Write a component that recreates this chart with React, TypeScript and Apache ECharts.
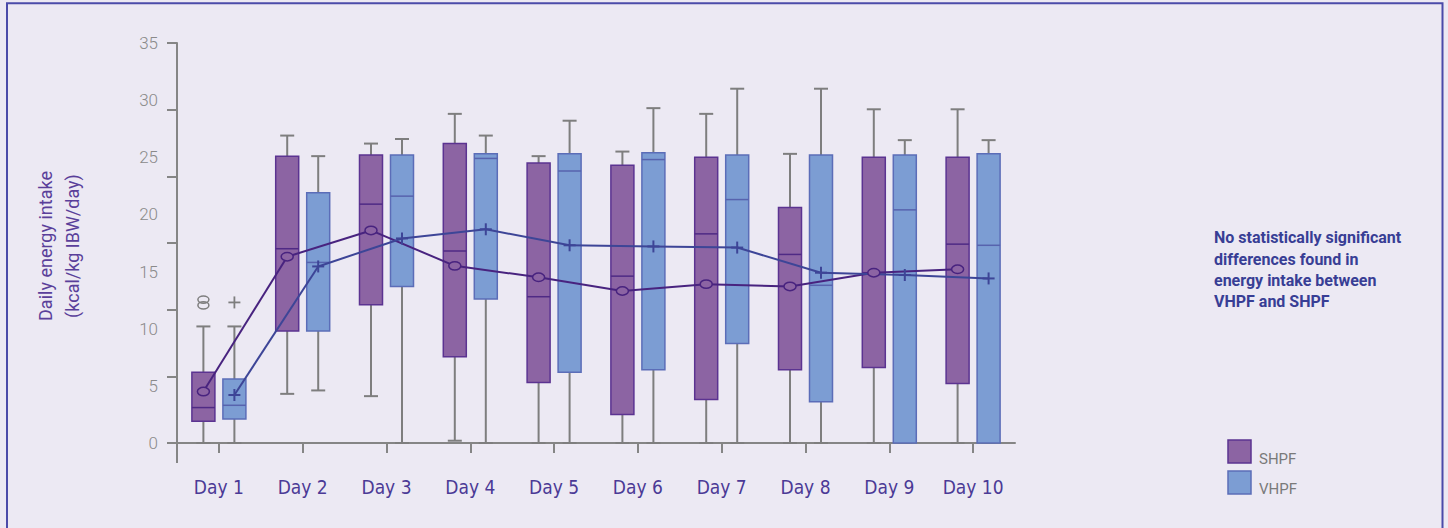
import React, { useEffect, useRef } from 'react';
import * as echarts from 'echarts';

// ---------- data ----------
const days = ['Day 1', 'Day 2', 'Day 3', 'Day 4', 'Day 5', 'Day 6', 'Day 7', 'Day 8', 'Day 9', 'Day 10'];
const yTickValues = [0, 5, 10, 15, 20, 25, 30, 35];

// SHPF box statistics
const shpfLow = [0, 4.3, 4.1, 0.2, 0, 0, 0, 0, 0, 0];
const shpfQ1 = [1.9, 9.8, 12.1, 7.55, 5.3, 2.5, 3.8, 6.4, 6.6, 5.2];
const shpfMedian = [3.1, 17.0, 20.9, 16.8, 12.8, 14.6, 18.3, 16.5, 14.9, 17.4];
const shpfQ3 = [6.2, 25.1, 25.2, 26.2, 24.5, 24.3, 25.0, 20.6, 25.0, 25.0];
const shpfHigh = [10.2, 26.9, 26.2, 28.8, 25.1, 25.5, 28.8, 25.3, 29.2, 29.2];
const shpfMean = [4.5, 16.3, 18.6, 15.5, 14.5, 13.3, 13.9, 13.7, 14.9, 15.2];
const shpfOutliers = [[0, 12.05], [0, 12.55]];

// VHPF box statistics
const vhpfLow = [0, 4.6, 0, 0, 0, 0, 0, 0, 0, 0];
const vhpfQ1 = [2.1, 9.8, 13.7, 12.6, 6.2, 6.4, 8.7, 3.6, 0, 0];
const vhpfMedian = [3.3, 15.8, 21.6, 24.9, 23.8, 24.8, 21.3, 13.8, 20.4, 17.3];
const vhpfQ3 = [5.6, 21.9, 25.2, 25.3, 25.3, 25.4, 25.2, 25.2, 25.2, 25.3];
const vhpfHigh = [10.2, 25.1, 26.6, 26.9, 28.2, 29.3, 31.0, 31.0, 26.5, 26.5];
const vhpfMean = [4.2, 15.45, 17.9, 18.7, 17.3, 17.2, 17.1, 14.9, 14.7, 14.4];
const vhpfOutliers = [[0, 12.3]];

// ---------- styles ----------
const BG = '#ECE9F3';
const AXIS_GRAY = '#858585';
const WHISKER = '#7E7E7E';
const SHPF_FILL = '#8C64A3';
const SHPF_STROKE = '#5B3391';
const SHPF_MEDIAN = '#4F2A85';
const SHPF_LINE = '#48237F';
const VHPF_FILL = '#7C9DD3';
const VHPF_STROKE = '#5B6DB8';
const VHPF_MEDIAN = '#5763AE';
const VHPF_LINE = '#3D4597';
const BOX_W = 23;
const CAP_W = 14;
const OFF = 15.5;

function boxRenderer(offset: number, fill: string, stroke: string, medColor: string) {
  return (params: any, api: any) => {
    const i = api.value(0);
    const low = api.coord([i, api.value(1)]);
    const q1 = api.coord([i, api.value(2)]);
    const med = api.coord([i, api.value(3)]);
    const q3 = api.coord([i, api.value(4)]);
    const high = api.coord([i, api.value(5)]);
    const cx = low[0] + offset;
    const hw = BOX_W / 2;
    const cw = CAP_W / 2;
    const ws = { stroke: WHISKER, lineWidth: 2 };
    return {
      type: 'group',
      children: [
        { type: 'line', shape: { x1: cx, y1: high[1], x2: cx, y2: q3[1] }, style: ws },
        { type: 'line', shape: { x1: cx, y1: q1[1], x2: cx, y2: low[1] }, style: ws },
        { type: 'line', shape: { x1: cx - cw, y1: high[1], x2: cx + cw, y2: high[1] }, style: ws },
        { type: 'line', shape: { x1: cx - cw, y1: low[1], x2: cx + cw, y2: low[1] }, style: ws },
        {
          type: 'rect',
          shape: { x: cx - hw, y: q3[1], width: BOX_W, height: q1[1] - q3[1] },
          style: { fill, stroke, lineWidth: 1.5 },
        },
        {
          type: 'line',
          shape: { x1: cx - hw, y1: med[1], x2: cx + hw, y2: med[1] },
          style: { stroke: medColor, lineWidth: 1.5 },
        },
      ],
    };
  };
}

function meanLineRenderer(means: number[], offset: number, color: string) {
  return (params: any, api: any) => {
    const i = params.dataIndex;
    if (i === 0) return { type: 'group', children: [] };
    const p0 = api.coord([i - 1, means[i - 1]]);
    const p1 = api.coord([i, means[i]]);
    return {
      type: 'line',
      shape: { x1: p0[0] + offset, y1: p0[1], x2: p1[0] + offset, y2: p1[1] },
      style: { stroke: color, lineWidth: 2 },
    };
  };
}

function circleMarker(offset: number, fill: string, stroke: string, rx: number, ry: number, lw: number) {
  return (params: any, api: any) => {
    const p = api.coord([api.value(0), api.value(1)]);
    return {
      type: 'ellipse',
      shape: { cx: p[0] + offset, cy: p[1], rx, ry },
      style: { fill, stroke, lineWidth: lw },
    };
  };
}

function plusMarker(offset: number, stroke: string, half: number, lw: number) {
  return (params: any, api: any) => {
    const p = api.coord([api.value(0), api.value(1)]);
    const x = p[0] + offset;
    const y = p[1];
    return {
      type: 'group',
      children: [
        { type: 'line', shape: { x1: x - half, y1: y, x2: x + half, y2: y }, style: { stroke, lineWidth: lw } },
        { type: 'line', shape: { x1: x, y1: y - half, x2: x, y2: y + half }, style: { stroke, lineWidth: lw } },
      ],
    };
  };
}

export default function App() {
  const ref = useRef<HTMLDivElement>(null);

  useEffect(() => {
    if (!ref.current) return;
    const chart = echarts.init(ref.current, undefined, { renderer: 'svg' });

    const shpfBoxes = days.map((_, i) => [i, shpfLow[i], shpfQ1[i], shpfMedian[i], shpfQ3[i], shpfHigh[i]]);
    const vhpfBoxes = days.map((_, i) => [i, vhpfLow[i], vhpfQ1[i], vhpfMedian[i], vhpfQ3[i], vhpfHigh[i]]);
    const shpfMeanData = shpfMean.map((m, i) => [i, m]);
    const vhpfMeanData = vhpfMean.map((m, i) => [i, m]);

    chart.setOption({
      animation: false,
      backgroundColor: BG,
      grid: { left: 177, top: 43, width: 838, height: 400, containLabel: false },
      xAxis: [
        {
          type: 'category',
          data: days,
          position: 'bottom',
          offset: 9,
          boundaryGap: true,
          axisLine: { show: true, lineStyle: { color: AXIS_GRAY, width: 2 } },
          axisTick: { show: true, alignWithLabel: true, length: 10, lineStyle: { color: AXIS_GRAY, width: 2 } },
          axisLabel: {
            interval: 0,
            color: '#4B3A96',
            fontSize: 19,
            fontFamily: "'Liberation Sans Narrow', 'DejaVu Sans Condensed', Roboto, sans-serif",
            margin: 25,
          },
          splitLine: { show: false },
        },
      ],
      yAxis: [
        {
          type: 'value',
          min: 0,
          max: 35,
          interval: 5,
          axisLine: { show: false },
          axisTick: { show: false },
          splitLine: { show: false },
          axisLabel: {
            color: '#8A8A8A',
            fontSize: 17,
            fontFamily: 'Roboto, sans-serif',
            fontWeight: 300,
            margin: 19,
            formatter: (v: number) => (yTickValues.indexOf(v) >= 0 ? String(v) : ''),
          },
        },
        {
          type: 'value',
          min: 0,
          max: 6,
          interval: 1,
          position: 'left',
          axisLine: { show: true, onZero: false, lineStyle: { color: AXIS_GRAY, width: 2 } },
          axisTick: { show: true, length: 10, lineStyle: { color: AXIS_GRAY, width: 2 } },
          axisLabel: { show: false },
          splitLine: { show: false },
        },
      ],
      graphic: [
        {
          type: 'rect',
          shape: { x: 7, y: 3.3, width: 1435.5, height: 540 },
          style: { fill: 'none', stroke: '#4B4BA9', lineWidth: 2 },
          silent: true,
        },
        {
          type: 'line',
          shape: { x1: 177, y1: 442, x2: 177, y2: 463 },
          style: { stroke: AXIS_GRAY, lineWidth: 2 },
        },
        {
          type: 'text',
          x: 59,
          y: 246,
          rotation: Math.PI / 2,
          style: {
            text: 'Daily energy intake\n(kcal/kg IBW/day)',
            align: 'center',
            verticalAlign: 'middle',
            fill: '#5A3F9A',
            font: '18px Roboto, sans-serif',
            lineHeight: 27,
          },
        },
        {
          type: 'text',
          x: 1214,
          y: 227,
          style: {
            text: 'No statistically significant\ndifferences found in\nenergy intake between\nVHPF and SHPF',
            fill: '#383E95',
            font: 'bold 16px Roboto, sans-serif',
            lineHeight: 21.4,
            verticalAlign: 'top',
          },
        },
        {
          type: 'rect',
          shape: { x: 1228, y: 440, width: 23, height: 23 },
          style: { fill: SHPF_FILL, stroke: SHPF_STROKE, lineWidth: 1.5 },
        },
        {
          type: 'rect',
          shape: { x: 1228, y: 471, width: 23, height: 23 },
          style: { fill: VHPF_FILL, stroke: VHPF_STROKE, lineWidth: 1.5 },
        },
        {
          type: 'text',
          x: 1259,
          y: 459,
          style: { text: 'SHPF', fill: '#7A7A7A', font: '15px Roboto, sans-serif', verticalAlign: 'middle' },
        },
        {
          type: 'text',
          x: 1259,
          y: 489,
          style: { text: 'VHPF', fill: '#7A7A7A', font: '15px Roboto, sans-serif', verticalAlign: 'middle' },
        },
      ],
      series: [
        {
          name: 'SHPF',
          type: 'custom',
          z: 2,
          renderItem: boxRenderer(-OFF, SHPF_FILL, SHPF_STROKE, SHPF_MEDIAN),
          encode: { x: 0, y: [1, 2, 3, 4, 5] },
          data: shpfBoxes,
        },
        {
          name: 'VHPF',
          type: 'custom',
          z: 2,
          renderItem: boxRenderer(OFF, VHPF_FILL, VHPF_STROKE, VHPF_MEDIAN),
          encode: { x: 0, y: [1, 2, 3, 4, 5] },
          data: vhpfBoxes,
        },
        {
          name: 'SHPF outliers',
          type: 'custom',
          z: 3,
          renderItem: circleMarker(-OFF, 'none', '#7E7E7E', 5.5, 3.6, 1.5),
          encode: { x: 0, y: 1 },
          data: shpfOutliers,
        },
        {
          name: 'VHPF outliers',
          type: 'custom',
          z: 3,
          renderItem: plusMarker(OFF, '#7E7E7E', 6, 1.8),
          encode: { x: 0, y: 1 },
          data: vhpfOutliers,
        },
        {
          name: 'SHPF mean line',
          type: 'custom',
          z: 4,
          renderItem: meanLineRenderer(shpfMean, -OFF, SHPF_LINE),
          encode: { x: 0, y: 1 },
          data: shpfMeanData,
        },
        {
          name: 'VHPF mean line',
          type: 'custom',
          z: 4,
          renderItem: meanLineRenderer(vhpfMean, OFF, VHPF_LINE),
          encode: { x: 0, y: 1 },
          data: vhpfMeanData,
        },
        {
          name: 'SHPF mean',
          type: 'custom',
          z: 5,
          renderItem: circleMarker(-OFF, SHPF_FILL, SHPF_LINE, 6, 4.2, 1.5),
          encode: { x: 0, y: 1 },
          data: shpfMeanData,
        },
        {
          name: 'VHPF mean',
          type: 'custom',
          z: 5,
          renderItem: plusMarker(OFF, VHPF_LINE, 6, 2),
          encode: { x: 0, y: 1 },
          data: vhpfMeanData,
        },
      ],
    });

    return () => {
      chart.dispose();
    };
  }, []);

  return (
    <div
      ref={ref}
      style={{ position: 'fixed', left: 0, top: 0, width: 1448, height: 528 }}
    />
  );
}
